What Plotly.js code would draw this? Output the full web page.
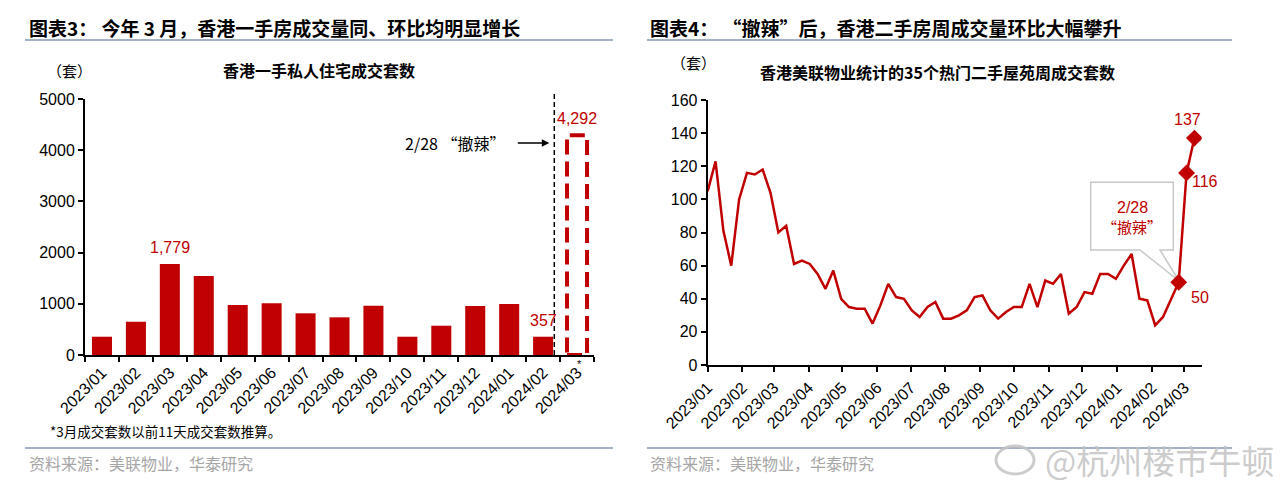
<!DOCTYPE html>
<html>
<head>
<meta charset="utf-8">
<script src="https://cdn.plot.ly/plotly-3.0.1.min.js"></script>
<style>
html,body{margin:0;padding:0;background:#fff;}
#chart{width:1280px;height:488px;}
</style>
</head>
<body>
<div id="chart"></div>
<script>
// ---------- DATA ----------
const monthLabels = ['2023/01','2023/02','2023/03','2023/04','2023/05','2023/06','2023/07','2023/08',
  '2023/09','2023/10','2023/11','2023/12','2024/01','2024/02','2024/03'];
const monthStarts = ['2023-01-01','2023-02-01','2023-03-01','2023-04-01','2023-05-01','2023-06-01',
  '2023-07-01','2023-08-01','2023-09-01','2023-10-01','2023-11-01','2023-12-01','2024-01-01',
  '2024-02-01','2024-03-01'];
// 香港一手私人住宅成交套数 (monthly); last value is the March estimate
const newHomeSales = [357, 650, 1779, 1543, 977, 1010, 814, 736, 963, 357, 572, 957, 996, 357, 4292];
const estimateIndex = 14;
const labelledBars = [2, 13, 14];

// 35个热门二手屋苑周成交套数 (weekly)
const weekDates = ['2023-01-01','2023-01-08','2023-01-15','2023-01-22','2023-01-29','2023-02-05',
  '2023-02-12','2023-02-19','2023-02-26','2023-03-05','2023-03-12','2023-03-19','2023-03-26',
  '2023-04-02','2023-04-09','2023-04-16','2023-04-23','2023-04-30','2023-05-07','2023-05-14',
  '2023-05-21','2023-05-28','2023-06-04','2023-06-11','2023-06-18','2023-06-25','2023-07-02',
  '2023-07-09','2023-07-16','2023-07-23','2023-07-30','2023-08-06','2023-08-13','2023-08-20',
  '2023-08-27','2023-09-03','2023-09-10','2023-09-17','2023-09-24','2023-10-01','2023-10-08',
  '2023-10-15','2023-10-22','2023-10-29','2023-11-05','2023-11-12','2023-11-19','2023-11-26',
  '2023-12-03','2023-12-10','2023-12-17','2023-12-24','2023-12-31','2024-01-07','2024-01-14',
  '2024-01-21','2024-01-28','2024-02-04','2024-02-11','2024-02-18','2024-02-25','2024-03-03',
  '2024-03-10'];
const weekSales = [105,123,81,60,100,116,115,118,104,80,84,61,63,61,55,46,57,40,35,34,34,25,36,49,
  41,40,33,29,35,38,28,28,30,33,41,42,33,28,32,35,35,49,35,51,49,55,31,35,44,43,55,55,52,60,67,
  40,39,24,29,39,50,116,137];
const highlightCount = 3;

// ---------- STYLE ----------
const RED = '#C00000';
const NUMFONT = 'Liberation Sans, Arial, sans-serif';
const CJK = 'Noto Sans CJK SC, sans-serif';
const W = 1280, H = 488;
const px = x => x / W;
const py = y => 1 - y / H;

const barWidth = 0.59;
const barY = newHomeSales.map((v, i) => i === estimateIndex ? null : v);

const traces = [
  { type: 'bar', x: monthLabels, y: barY, width: barWidth,
    marker: { color: RED, line: { width: 0 } }, xaxis: 'x', yaxis: 'y', hoverinfo: 'skip' },
  { type: 'scatter', mode: 'lines', x: weekDates, y: weekSales,
    line: { color: RED, width: 2.5 }, xaxis: 'x2', yaxis: 'y2', hoverinfo: 'skip' },
  { type: 'scatter', mode: 'markers', x: weekDates.slice(-highlightCount), y: weekSales.slice(-highlightCount),
    marker: { symbol: 'diamond', size: 13, color: RED }, xaxis: 'x2', yaxis: 'y2', hoverinfo: 'skip' }
];

const axisCommon = {
  showline: true, linecolor: '#000', linewidth: 2, ticks: 'outside', ticklen: 5,
  tickcolor: '#000', tickwidth: 2, showgrid: false, zeroline: false, fixedrange: true,
  tickfont: { family: NUMFONT, size: 16, color: '#000' }
};

const annotations = [];
const shapes = [];
function label(x, y, text, font, xanchor) {
  annotations.push({ xref: 'paper', yref: 'paper', x: px(x), y: py(y), xanchor: xanchor || 'center',
    yanchor: 'middle', text: text, showarrow: false, font: font });
}

// headings
label(27, 28, '图表3： 今年 3 月，香港一手房成交量同、环比均明显增长',
  { family: CJK, size: 19, color: '#000', weight: 'bold' }, 'left');
label(648, 28, '图表4： “撤辣”后，香港二手房周成交量环比大幅攀升',
  { family: CJK, size: 19, color: '#000', weight: 'bold' }, 'left');
// header / footer rules
[[25, 613], [647, 1232]].forEach(([a, b]) => {
  shapes.push({ type: 'line', xref: 'paper', yref: 'paper', x0: px(a), x1: px(b), y0: py(40), y1: py(40),
    line: { color: '#8497b0', width: 1.5 } });
  shapes.push({ type: 'line', xref: 'paper', yref: 'paper', x0: px(a), x1: px(b), y0: py(448), y1: py(448),
    line: { color: '#8497b0', width: 1.5 } });
});
// sub titles
label(69, 70, '（套）', { family: CJK, size: 15, color: '#000' });
label(319, 70, '香港一手私人住宅成交套数', { family: CJK, size: 16, color: '#000', weight: 'bold' });
label(693, 63, '（套）', { family: CJK, size: 15, color: '#000' });
label(758, 72, '香港美联物业统计的35个热门二手屋苑周成交套数', { family: CJK, size: 16, color: '#000', weight: 'bold' }, 'left');
// footnotes and sources
label(48, 431, '*3月成交套数以前11天成交套数推算。', { family: CJK, size: 13.5, color: '#000' }, 'left');
label(27, 463, '资料来源：美联物业，华泰研究', { family: CJK, size: 16, color: '#a6a6a6' }, 'left');
label(648, 463, '资料来源：美联物业，华泰研究', { family: CJK, size: 16, color: '#a6a6a6' }, 'left');
// watermark
label(1043, 460, '@杭州楼市牛顿', { family: CJK, size: 33, color: 'rgba(195,195,195,0.85)' }, 'left');
shapes.push({ type: 'circle', xref: 'paper', yref: 'paper', x0: px(996), x1: px(1034), y0: py(474), y1: py(446),
  line: { color: 'rgba(195,195,195,0.85)', width: 3 } });

// left chart bar labels
labelledBars.forEach(i => {
  annotations.push({ xref: 'x', yref: 'y', x: monthLabels[i], y: newHomeSales[i], xanchor: 'center', yanchor: 'bottom', yshift: 6,
    text: newHomeSales[i].toLocaleString('en-US'), showarrow: false,
    font: { family: NUMFONT, size: 16, color: RED } });
});
// estimate dashed box
shapes.push({ type: 'rect', xref: 'x', yref: 'y', x0: estimateIndex - barWidth / 2, x1: estimateIndex + barWidth / 2,
  y0: 0, y1: newHomeSales[estimateIndex], line: { color: RED, width: 4, dash: '15px,7px' }, fillcolor: 'rgba(0,0,0,0)' });
// policy dashed line
const policyX = estimateIndex - 0.67;
shapes.push({ type: 'line', xref: 'x', yref: 'paper', x0: policyX, x1: policyX,
  y0: py(355), y1: py(92), line: { color: '#000', width: 1.5, dash: '5px,3px' } });
annotations.push({ xref: 'x', yref: 'paper', x: policyX, y: py(143), ax: -38, ay: 0, axref: 'pixel', ayref: 'pixel',
  text: '', showarrow: true, arrowhead: 2, arrowsize: 1, arrowwidth: 1.5, arrowcolor: '#000', standoff: 5 });
label(455, 143, '2/28 “撤辣”', { family: CJK, size: 16, color: '#000' });
label(579, 364, '*', { family: NUMFONT, size: 11, color: '#000' });

// right chart point labels
const n = weekSales.length;
annotations.push({ xref: 'x2', yref: 'y2', x: weekDates[n - 1], y: weekSales[n - 1], xanchor: 'center', yanchor: 'bottom', yshift: 8, xshift: -7,
  text: String(weekSales[n - 1]), showarrow: false, font: { family: NUMFONT, size: 16, color: RED } });
annotations.push({ xref: 'x2', yref: 'y2', x: weekDates[n - 2], y: weekSales[n - 2], xanchor: 'left', yanchor: 'middle', xshift: 3, yshift: -9,
  text: String(weekSales[n - 2]), showarrow: false, font: { family: NUMFONT, size: 16, color: RED } });
annotations.push({ xref: 'x2', yref: 'y2', x: weekDates[n - 3], y: weekSales[n - 3], xanchor: 'left', yanchor: 'middle', xshift: 10, yshift: -15,
  text: String(weekSales[n - 3]), showarrow: false, font: { family: NUMFONT, size: 16, color: RED } });
// callout box
const cb = [[1090.7,182.3],[1173.3,182.3],[1173.3,250],[1160,250],[1179,281],[1140,250],[1090.7,250]];
shapes.push({ type: 'path', xref: 'paper', yref: 'paper', layer: 'below',
  path: 'M' + cb.map(p => px(p[0]).toFixed(5) + ',' + py(p[1]).toFixed(5)).join(' L') + ' Z',
  line: { color: '#c8c8c8', width: 1.5 }, fillcolor: '#fff' });
label(1132, 207, '2/28', { family: NUMFONT, size: 16, color: RED });
label(1132, 226, '“撤辣”', { family: CJK, size: 15, color: RED });

const layout = {
  width: W, height: H, margin: { l: 0, r: 0, t: 0, b: 0 },
  paper_bgcolor: '#fff', plot_bgcolor: 'rgba(0,0,0,0)', showlegend: false,
  xaxis: Object.assign({}, axisCommon, { domain: [px(85), px(594)], type: 'category',
    range: [-0.5, monthLabels.length - 0.5], tickangle: -45, tickson: 'boundaries', anchor: 'y' }),
  yaxis: Object.assign({}, axisCommon, { domain: [py(355), py(99)], range: [0, 5000], dtick: 1000, anchor: 'x' }),
  xaxis2: Object.assign({}, axisCommon, { domain: [px(707.7), px(1201.7)], type: 'date',
    range: ['2023-01-01', '2024-03-16 12:00'], tickmode: 'array', tickvals: monthStarts, ticktext: monthLabels,
    tickangle: -45, anchor: 'y2' }),
  yaxis2: Object.assign({}, axisCommon, { domain: [py(365), py(100)], range: [0, 160], dtick: 20, anchor: 'x2' }),
  annotations: annotations, shapes: shapes
};

Plotly.newPlot('chart', traces, layout, { staticPlot: true, displayModeBar: false });
</script>
</body>
</html>
